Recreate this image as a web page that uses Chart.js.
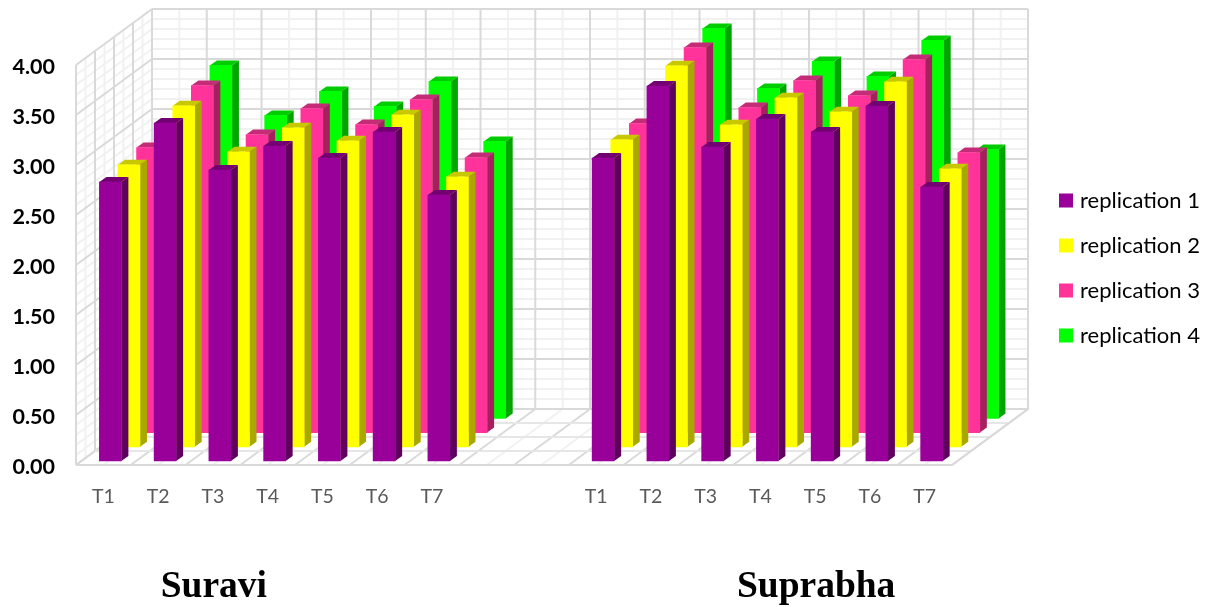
<!DOCTYPE html>
<html>
<head>
<meta charset="utf-8">
<style>html,body{margin:0;padding:0;background:#fff}canvas{display:block}</style>
<script src="https://cdn.jsdelivr.net/npm/chart.js@4"></script>
</head>
<body>
<canvas id="c" width="1208" height="607"></canvas>
<script>
const categories = ['T1','T2','T3','T4','T5','T6','T7','','','T1','T2','T3','T4','T5','T6','T7'];
const seriesNames = ['replication 1','replication 2','replication 3','replication 4'];
const replication1 = [2.79,3.38,2.91,3.15,3.03,3.29,2.66,null,null,3.03,3.75,3.14,3.42,3.29,3.55,2.74];
const replication2 = [2.82,3.41,2.95,3.19,3.06,3.32,2.70,null,null,3.07,3.81,3.22,3.49,3.35,3.65,2.78];
const replication3 = [2.85,3.47,2.98,3.24,3.08,3.33,2.75,null,null,3.09,3.85,3.25,3.52,3.37,3.73,2.80];
const replication4 = [2.92,3.53,3.03,3.27,3.12,3.37,2.77,null,null,3.12,3.90,3.30,3.57,3.42,3.78,2.69];
const groupTitles = [{text:'Suravi',at:2},{text:'Suprabha',at:13}];
const front = ['#990099','#ffff00','#ff3399','#00ff00'];
const side  = ['#5f005f','#a8a800','#a6205f','#00a500'];
const top3d = ['#730073','#c8c800','#c42c78','#00cc00'];
const DEPTH_X = 76, DEPTH_Y = 56;
const seriesStepX = 18.6, seriesStepY = 14.2, startX = 7, startY = 4;
const capX = 7, capY = 5;
const MAJOR = '#d9d9d9', MINOR = '#f1f1f1';

function seg(ctx,x1,y1,x2,y2,c,w){ctx.strokeStyle=c;ctx.lineWidth=w;ctx.beginPath();ctx.moveTo(x1,y1);ctx.lineTo(x2,y2);ctx.stroke();}

const walls = {
  id:'walls',
  beforeDraw(chart){
    for(const item of chart.scales.y.getLabelItems()) item.textOffset = 2.5;
  },
  beforeDatasetsDraw(chart){
    const ctx=chart.ctx, xs=chart.scales.x, ys=chart.scales.y;
    const n=categories.length, step=(xs.right-xs.left)/n, y0=ys.getPixelForValue(0), y4=ys.getPixelForValue(4);
    const L=xs.left, R=xs.right;
    ctx.save();
    const layers=[[MINOR,2,false],[MAJOR,2,true]];
    for(const [col,lw,maj] of layers){
      for(let k=0;k<=40;k++){
        const isMaj=k%5===0; if(isMaj!==maj) continue;
        const py=ys.getPixelForValue(k/10);
        seg(ctx,L+DEPTH_X,py-DEPTH_Y,R+DEPTH_X,py-DEPTH_Y,col,lw);
        seg(ctx,L,py,L+DEPTH_X,py-DEPTH_Y,col,lw);
      }
      for(let k=0;k<=n*2;k++){
        const isMaj=k%2===0; if(isMaj!==maj) continue;
        const px=L+k*step/2;
        seg(ctx,px+DEPTH_X,y4-DEPTH_Y,px+DEPTH_X,y0-DEPTH_Y,col,lw);
        seg(ctx,px,y0,px+DEPTH_X,y0-DEPTH_Y,col,lw);
      }
      for(let k=0;k<=8;k++){
        const isMaj=k%2===0; if(isMaj!==maj) continue;
        const d=k/8;
        seg(ctx,L+d*DEPTH_X,y4-d*DEPTH_Y,L+d*DEPTH_X,y0-d*DEPTH_Y,col,lw);
      }
    }
    for(let k=0;k<=4;k++){
      const d=k/4;
      seg(ctx,L+d*DEPTH_X,y0-d*DEPTH_Y,R+d*DEPTH_X,y0-d*DEPTH_Y,(k===0||k===4)?MAJOR:'#e6e6e6',2);
    }
    seg(ctx,R,y0,R+DEPTH_X,y0-DEPTH_Y,MAJOR,2);
    ctx.restore();
  },
  beforeDatasetDraw(chart,args){
    const i=args.index, ctx=chart.ctx;
    ctx.save();
    ctx.translate(startX+i*seriesStepX,-(startY+i*seriesStepY));
    args.meta.data.forEach((el,j)=>{
      if(values[i][j]===null) return;
      const {x,y,base,width}=el, l=x-width/2, r=x+width/2;
      ctx.fillStyle=side[i];
      ctx.beginPath();ctx.moveTo(r,y);ctx.lineTo(r+capX,y-capY);ctx.lineTo(r+capX,base-capY);ctx.lineTo(r,base);ctx.closePath();ctx.fill();
      ctx.fillStyle=top3d[i];
      ctx.beginPath();ctx.moveTo(l,y);ctx.lineTo(l+capX,y-capY);ctx.lineTo(r+capX,y-capY);ctx.lineTo(r,y);ctx.closePath();ctx.fill();
    });
  },
  afterDatasetDraw(chart){ chart.ctx.restore(); },
  afterLayout(chart){
    const lg=chart.legend;
    lg.left=1040; lg.right=1208; lg.top=0; lg.bottom=536;
  },
  afterDraw(chart){
    const ctx=chart.ctx, xs=chart.scales.x;
    ctx.save();
    ctx.fillStyle='#000';ctx.font='bold 37.5px "Liberation Serif"';ctx.textAlign='center';ctx.textBaseline='middle';
    for(const t of groupTitles) ctx.fillText(t.text,xs.getPixelForValue(t.at)+1,587);
    ctx.restore();
  }
};

const values=[replication1,replication2,replication3,replication4];
new Chart(document.getElementById('c'),{
  type:'bar',
  data:{labels:categories,datasets:seriesNames.map((name,i)=>({label:name,data:values[i],backgroundColor:front[i],borderWidth:0,barThickness:22,clip:false,grouped:false}))},
  options:{
    responsive:false,animation:false,
    layout:{padding:{top:65,left:0,right:86,bottom:0}},
    plugins:{
      tooltip:{enabled:false},
      legend:{position:'right',align:'center',
        labels:{font:{family:'Lato',size:22},color:'#595959',boxWidth:6,boxHeight:6,padding:23,
          generateLabels:c=>c.data.datasets.map((d,i)=>({text:d.label,fillStyle:front[i],strokeStyle:front[i],lineWidth:8,datasetIndex:i,hidden:false}))}}
    },
    scales:{
      x:{grid:{display:false,drawTicks:false},border:{display:false},
        ticks:{autoSkip:false,maxRotation:0,padding:20,color:'#595959',font:{family:'Lato',size:19.5}},
        afterFit(s){s.height=142;}},
      y:{min:0,max:4,grid:{display:false,drawTicks:false},border:{display:false},
        ticks:{stepSize:0.5,padding:21,color:'#000',font:{family:'Lato',size:21.5,weight:'bold'},callback:v=>v.toFixed(2)},
        afterFit(s){s.width=76;}}
    }
  },
  plugins:[walls]
});
</script>
</body>
</html>
